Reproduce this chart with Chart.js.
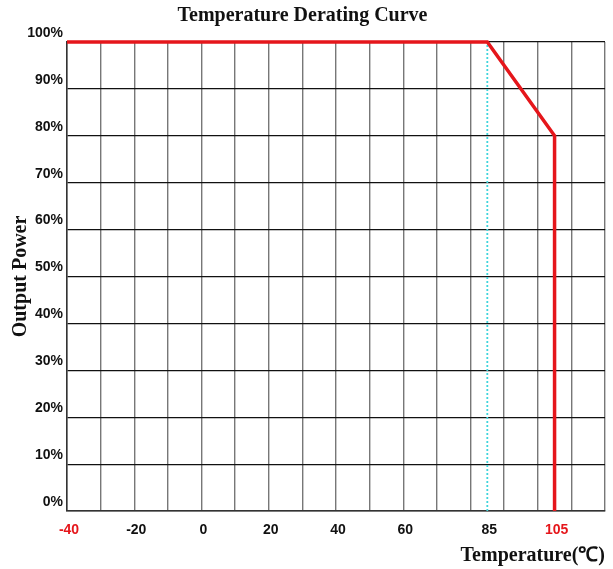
<!DOCTYPE html>
<html>
<head>
<meta charset="utf-8">
<script src="https://cdn.jsdelivr.net/npm/chart.js@4.4.1/dist/chart.umd.min.js"></script>
<style>
  html, body { margin: 0; padding: 0; background: #fff; }
  #wrap { width: 613px; height: 569px; position: relative; }
</style>
</head>
<body>
<div id="wrap"><canvas id="deratingChart"></canvas></div>
<script>
// derating curve (temperature in °C, output power in %)
const curveTemps = [-40, 85, 105, 105];
const curvePower = [100, 100, 80, 0];

// dotted marker at the derating start
const markerTemps = [85, 85];
const markerPower = [0, 100];

// vertical grid every 10 °C
const gridTemps = [-40, -30, -20, -10, 0, 10, 20, 30, 40, 50, 60, 70, 80, 90, 100, 110, 120];
// labelled temperatures on the x axis
const tempLabels = [-40, -20, 0, 20, 40, 60, 85, 105];
const redLabels = [-40, 105];

const powerTicks = [0, 10, 20, 30, 40, 50, 60, 70, 80, 90, 100];

const tickFont = { family: '"Liberation Sans", Arial, sans-serif', size: 14, weight: 'bold' };
const serifFont = { family: '"Liberation Serif", "Times New Roman", serif', size: 20, weight: 'bold' };

const ctx = document.querySelector('#deratingChart');

new Chart(ctx, {
  type: 'line',
  data: {
    datasets: [
      {
        label: 'Derating',
        data: curveTemps.map((t, i) => ({ x: t, y: curvePower[i] })),
        borderColor: '#e5161b',
        borderWidth: 3.5,
        pointRadius: 0,
        tension: 0,
        clip: false,
      },
      {
        label: 'Marker',
        data: markerTemps.map((t, i) => ({ x: t, y: markerPower[i] })),
        borderColor: '#40d4dc',
        borderWidth: 1.8,
        borderDash: [2, 2],
        pointRadius: 0,
        clip: false,
      },
    ],
  },

  options: {
    responsive: true,
    maintainAspectRatio: false,
    animation: false,
    layout: {
      padding: { left: 0, right: 8, top: 0, bottom: 0 },
    },

    plugins: {
      legend: { display: false },
      tooltip: { enabled: false },
      title: {
        display: true,
        text: 'Temperature Derating Curve',
        color: '#111',
        font: serifFont,
        padding: { top: 4, bottom: 14 },
      },
    },

    scales: {
      x: {
        type: 'linear',
        min: -40,
        max: 120,
        afterBuildTicks(scale) {
          const values = gridTemps.concat(tempLabels.filter((t) => !gridTemps.includes(t)));
          scale.ticks = values.sort((a, b) => a - b).map((v) => ({ value: v }));
        },
        afterFit(scale) {
          scale.height = 58;
          scale.paddingLeft = 0;
          scale.paddingRight = 0;
        },
        ticks: {
          autoSkip: false,
          maxRotation: 0,
          padding: 11,
          labelOffset: 2,
          font: tickFont,
          color(context) {
            return redLabels.includes(context.tick.value) ? '#e5161b' : '#111';
          },
          callback(value) {
            return tempLabels.includes(value) ? String(value) : '';
          },
        },
        grid: {
          drawTicks: false,
          lineWidth: 1.4,
          color(context) {
            if (!context.tick) return '#777';
            return gridTemps.includes(context.tick.value) ? '#777' : 'rgba(0,0,0,0)';
          },
        },
        border: { color: '#333', width: 1.5 },
        title: {
          display: true,
          text: 'Temperature(℃)',
          align: 'end',
          color: '#111',
          font: serifFont,
          padding: { top: 0, bottom: 1 },
        },
      },

      y: {
        type: 'linear',
        min: 0,
        max: 100,
        afterBuildTicks(scale) {
          scale.ticks = powerTicks.map((v) => ({ value: v }));
        },
        afterFit(scale) {
          scale.width = 67;
        },
        ticks: {
          padding: 4,
          labelOffset: -9,
          font: tickFont,
          color: '#111',
          callback(value) {
            return `${value}%`;
          },
        },
        grid: {
          drawTicks: false,
          color: '#111',
          lineWidth: 1.2,
        },
        border: { color: '#333', width: 1.5 },
        title: {
          display: true,
          text: 'Output Power',
          color: '#111',
          font: serifFont,
          padding: { top: 9, bottom: 0 },
        },
      },
    },
  },
});
</script>
</body>
</html>
